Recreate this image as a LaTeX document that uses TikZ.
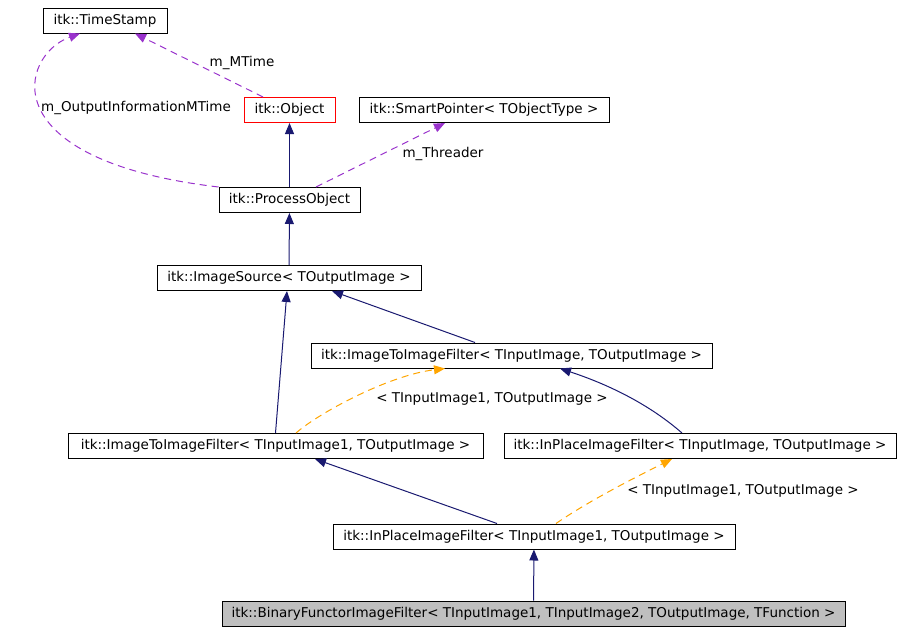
\documentclass[tikz,border=0pt]{standalone}
\usepackage{fontspec}
\setmainfont{DejaVu Sans}
\usetikzlibrary{arrows.meta, calc}
\definecolor{inheritblue}{RGB}{25, 25, 112}
\definecolor{usagepurple}{RGB}{153, 50, 204}
\definecolor{tmplorange}{RGB}{255, 165, 0}
\definecolor{boxgrey}{RGB}{191, 191, 191}
\tikzset{
    x=1pt, y=-1pt,
    every node/.style={font=\fontsize{13.5}{16}\selectfont},
    classbox/.style={draw, line width=1pt, minimum height=25pt, inner sep=0pt},
    inherit/.style={draw=inheritblue, line width=1pt,
        -{Triangle[length=11pt, width=9pt]}},
    usage/.style={draw=usagepurple, line width=1pt, dash pattern=on 7pt off 5pt,
        -{Triangle[length=11pt, width=9pt, sep=0pt]}},
    tmpl/.style={draw=tmplorange, line width=1pt, dash pattern=on 7pt off 5pt,
        -{Triangle[length=11pt, width=9pt]}},
}

\begin{document}
\begin{tikzpicture}
    \useasboundingbox (0, 0) rectangle (900, 632);
    % classes
    \node[classbox, minimum width=124pt] (timestamp) at (105, 20.5) {itk::TimeStamp};
    \node[classbox, draw=red, minimum width=91pt] (object) at (289.5, 110) {itk::Object};
    \node[classbox, minimum width=250pt] (smartptr) at (484, 110)
        {itk::SmartPointer< TObjectType >};
    \node[classbox, minimum width=141pt] (procobj) at (289.5, 200) {itk::ProcessObject};
    \node[classbox, minimum width=264pt] (imgsource) at (289, 278)
        {itk::ImageSource< TOutputImage >};
    \node[classbox, minimum width=401pt] (imgtoimg) at (511.5, 355.5)
        {itk::ImageToImageFilter< TInputImage, TOutputImage >};
    \node[classbox, minimum width=415pt] (imgtoimgone) at (275.5, 446)
        {itk::ImageToImageFilter< TInputImage1, TOutputImage >};
    \node[classbox, minimum width=392pt] (inplace) at (700, 446)
        {itk::InPlaceImageFilter< TInputImage, TOutputImage >};
    \node[classbox, minimum width=402pt] (inplaceone) at (534, 536.5)
        {itk::InPlaceImageFilter< TInputImage1, TOutputImage >};
    \node[classbox, fill=boxgrey, minimum width=623pt] (binfunctor) at (533.5, 613.5)
        {itk::BinaryFunctorImageFilter< TInputImage1, TInputImage2, TOutputImage, TFunction >};

    % members
    \draw[usage] ([xshift=-26.5pt]object.north) -- ([xshift=30pt]timestamp.south);
    \node (lblmtime) at (242, 63) {m\_MTime};
    \draw[usage] (procobj.north west) .. controls (-10, 160) and (20, 55)
        .. ([xshift=-25pt]timestamp.south);
    \node (lbloutinfo) at (136, 108) {m\_OutputInformationMTime};
    \draw[usage] ([xshift=26.5pt]procobj.north) -- ([xshift=-39pt]smartptr.south);
    \node (lblthreader) at (443, 154) {m\_Threader};

    % inheritance
    \draw[inherit] (procobj) -- (object);
    \draw[inherit] (imgsource) -- (procobj);
    \draw[inherit] ([xshift=-36.5pt]imgtoimg.north) -- ([xshift=43pt]imgsource.south);
    \draw[inherit] (imgtoimgone.north) -- ([xshift=-2pt]imgsource.south);
    \draw[inherit] ([xshift=-18pt]inplace.north) .. controls (650, 405) and (610, 385)
        .. ([xshift=48.5pt]imgtoimg.south);
    \draw[inherit] ([xshift=-37pt]inplaceone.north) -- ([xshift=39.5pt]imgtoimgone.south);
    \draw[inherit] (binfunctor) -- (inplaceone);

    % template instances
    \draw[tmpl] ([xshift=20.5pt]imgtoimgone.north) .. controls (320, 412) and (390, 375)
        .. ([xshift=-66.5pt]imgtoimg.south);
    \node (lbltmplone) at (492, 399) {< TInputImage1, TOutputImage >};
    \draw[tmpl] ([xshift=22pt]inplaceone.north) .. controls (590, 500) and (640, 475)
        .. ([xshift=-28pt]inplace.south);
    \node (lbltmpltwo) at (743, 491) {< TInputImage1, TOutputImage >};
\end{tikzpicture}
\end{document}
